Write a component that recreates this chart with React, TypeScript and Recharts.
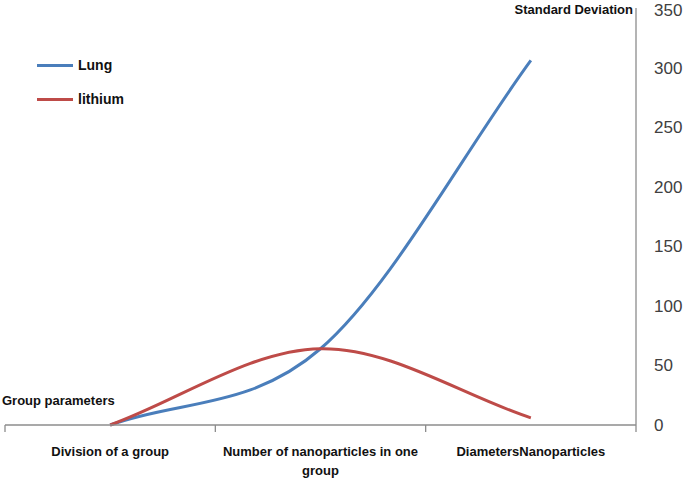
import React from "react";
import { ComposedChart, Line, XAxis, YAxis, Legend, Text } from "recharts";

const categories = ["Division of a group", "Number of nanoparticles in one group", "DiametersNanoparticles"];
const lungValues = [0, 64, 306];
const lithiumValues = [0, 64, 6];
const yTicks = [0, 50, 100, 150, 200, 250, 300, 350];
const yTitle = "Standard Deviation";
const xTitle = "Group parameters";

const data = categories.map((c, i) => ({ category: c, Lung: lungValues[i], lithium: lithiumValues[i] }));

const FONT = "'Liberation Sans', Arial, sans-serif";
const AXIS = "#8c8c8c";

// Excel-like smoothing: Catmull-Rom tangents, chord tangents at ends
const excelCurve = (ctx: any) => {
  let pts: number[][] = [];
  return {
    areaStart() {},
    areaEnd() {},
    lineStart() { pts = []; },
    point(x: number, y: number) { pts.push([+x, +y]); },
    lineEnd() {
      const n = pts.length;
      if (!n) return;
      ctx.moveTo(pts[0][0], pts[0][1]);
      if (n === 1) return;
      if (n === 2) { ctx.lineTo(pts[1][0], pts[1][1]); return; }
      const t = pts.map((p, i) => {
        if (i === 0) return [pts[1][0] - p[0], pts[1][1] - p[1]];
        if (i === n - 1) return [p[0] - pts[n - 2][0], p[1] - pts[n - 2][1]];
        return [(pts[i + 1][0] - pts[i - 1][0]) / 2, (pts[i + 1][1] - pts[i - 1][1]) / 2];
      });
      for (let i = 0; i < n - 1; i++) {
        const a = pts[i], b = pts[i + 1];
        ctx.bezierCurveTo(a[0] + t[i][0] / 3, a[1] + t[i][1] / 3, b[0] - t[i + 1][0] / 3, b[1] - t[i + 1][1] / 3, b[0], b[1]);
      }
    },
  };
};

const CatTick = (props: any) => {
  const { x, y, payload, visibleTicksCount } = props;
  const off = payload.offset ?? 0;
  const axisY = y - 22;
  const isLast = payload.index === (visibleTicksCount ?? categories.length) - 1;
  return (
    <g>
      <line x1={x - off} x2={x - off} y1={axisY} y2={axisY + 7} stroke={AXIS} strokeWidth={1.3} />
      {isLast && <line x1={x + off} x2={x + off} y1={axisY} y2={axisY + 7} stroke={AXIS} strokeWidth={1.3} />}
      <Text x={x} y={y} width={250} textAnchor="middle" verticalAnchor="start" lineHeight="19px"
        style={{ fontFamily: FONT, fontWeight: "bold", fontSize: 13 }} fill="#111">
        {payload.value}
      </Text>
    </g>
  );
};

const LegendContent = (props: any) => {
  const { payload } = props;
  return (
    <div>
      {(payload || []).map((e: any) => (
        <div key={e.value} style={{ display: "flex", alignItems: "center", height: 34, fontFamily: FONT, fontWeight: "bold", fontSize: 14, color: "#111" }}>
          <div style={{ width: 36, height: 3, background: e.color, marginRight: 5 }} />
          {e.value}
        </div>
      ))}
    </div>
  );
};

export default function App() {
  return (
    <div style={{ position: "absolute", left: 0, top: 0, background: "#fff" }}>
      <ComposedChart width={685} height={478} data={data} margin={{ top: 8, right: 0, left: 5, bottom: 0 }}>
        <XAxis dataKey="category" type="category" scale="band" height={53} axisLine={{ stroke: AXIS, strokeWidth: 1.3 }} tickLine={false}
          tickSize={0} tickMargin={22} interval={0} tick={<CatTick />} />
        <YAxis orientation="right" domain={[0, 350]} ticks={yTicks} width={49} tickLine={false} tickSize={0} tickMargin={18}
          axisLine={{ stroke: AXIS, strokeWidth: 1.3 }} tick={{ fill: "#404040", fontSize: 17, fontFamily: FONT }}
          label={{
            content: (p: any) => (
              <g>
                <text x={p.viewBox.x - 3} y={14} textAnchor="end"
                  style={{ fontFamily: FONT, fontWeight: "bold", fontSize: 13 }} fill="#111">{yTitle}</text>
                <text x={2} y={p.viewBox.y + p.viewBox.height - 20} textAnchor="start"
                  style={{ fontFamily: FONT, fontWeight: "bold", fontSize: 13 }} fill="#111">{xTitle}</text>
              </g>
            ),
          }} />
        <Legend layout="vertical" verticalAlign="middle" align="center" content={<LegendContent />}
          wrapperStyle={{ left: 37, top: 48, width: 120 }} />
        <Line dataKey="Lung" name="Lung" type={excelCurve as any} stroke="#4A7EBB" strokeWidth={3} dot={false} isAnimationActive={false} />
        <Line dataKey="lithium" name="lithium" type={excelCurve as any} stroke="#BE4B48" strokeWidth={3} dot={false} isAnimationActive={false} />
      </ComposedChart>
    </div>
  );
}
